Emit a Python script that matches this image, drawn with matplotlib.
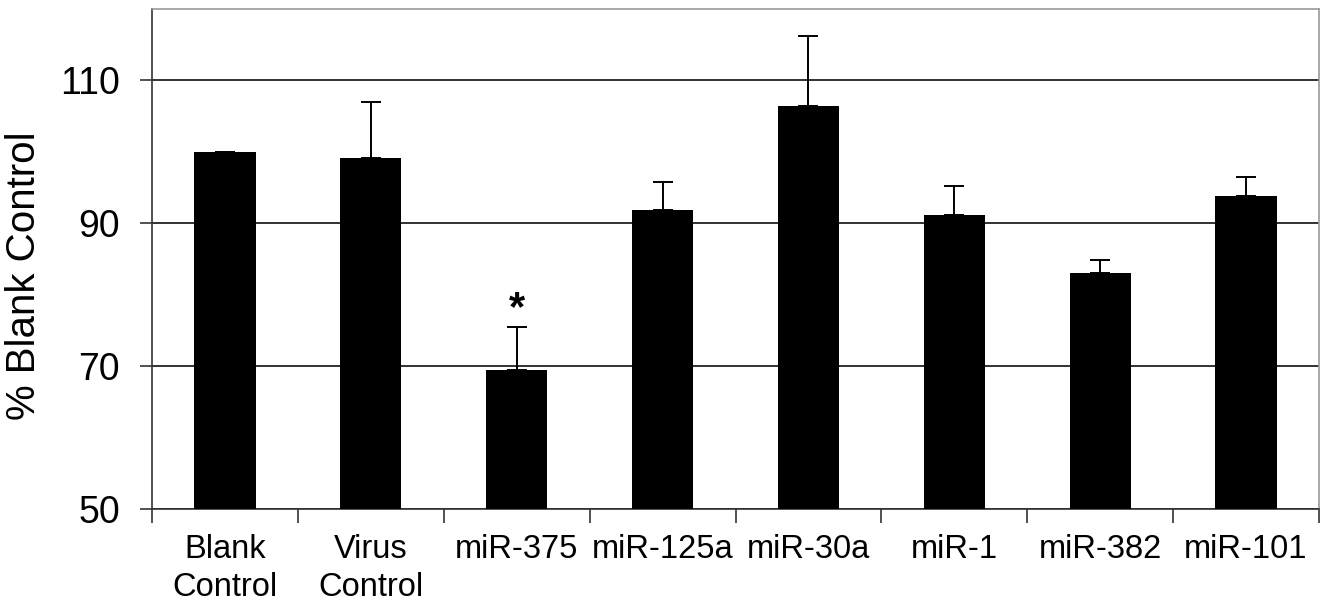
import numpy as np
import matplotlib
matplotlib.use("Agg")
import matplotlib.pyplot as plt

plt.rcParams['font.family'] = ['Liberation Sans', 'DejaVu Sans']

# data
categories = ['Blank\nControl', 'Virus\nControl', 'miR-375', 'miR-125a',
              'miR-30a', 'miR-1', 'miR-382', 'miR-101']
values = [100.0, 99.1, 69.4, 91.8, 106.3, 91.1, 83.0, 93.8]
errors = [0.0, 7.8, 6.1, 4.0, 9.9, 4.1, 1.8, 2.7]
star_idx = 2
star_y = 78.0

fig = plt.figure(figsize=(13.31, 6.08), dpi=100)
ax = fig.add_axes([0.1142, 0.1628, 0.8768, 0.8232])

x = np.arange(len(categories))
ax.bar(x, values, width=0.42, bottom=0, color='black', zorder=3)
ax.errorbar(x, values, yerr=[np.zeros(len(errors)), errors], fmt='none',
            ecolor='black', elinewidth=1.4, capsize=7, capthick=1.4, zorder=4)

ax.text(x[star_idx], star_y, '*', ha='center', va='center', fontsize=30,
        fontweight='bold')

ax.set_xlim(-0.5, len(categories) - 0.5)
ax.set_ylim(50, 120)
ax.set_yticks([50, 70, 90, 110])
ax.yaxis.grid(True, color='#222222', linewidth=1.3, zorder=0)
ax.set_axisbelow(True)

ax.set_xticks(x)
ax.set_xticklabels(categories, fontsize=23.5, linespacing=1.28)
ax.set_xticks(np.arange(-0.5, len(categories)), minor=True)
ax.tick_params(axis='x', which='major', length=0, pad=18)
ax.tick_params(axis='x', which='minor', length=10, width=1.2, direction='out',
               color='#333333')
ax.tick_params(axis='y', labelsize=27, length=9, width=1.2, pad=14,
               color='#333333')

ax.set_ylabel('% Blank Control', fontsize=29)
ax.yaxis.set_label_coords(-0.0935, 0.466)

ax.spines['left'].set_color('#333333')
ax.spines['bottom'].set_color('#333333')
ax.spines['top'].set_color('#999999')
ax.spines['right'].set_color('#999999')
for s in ax.spines.values():
    s.set_linewidth(1.2)

fig.savefig('out.png', dpi=100)
